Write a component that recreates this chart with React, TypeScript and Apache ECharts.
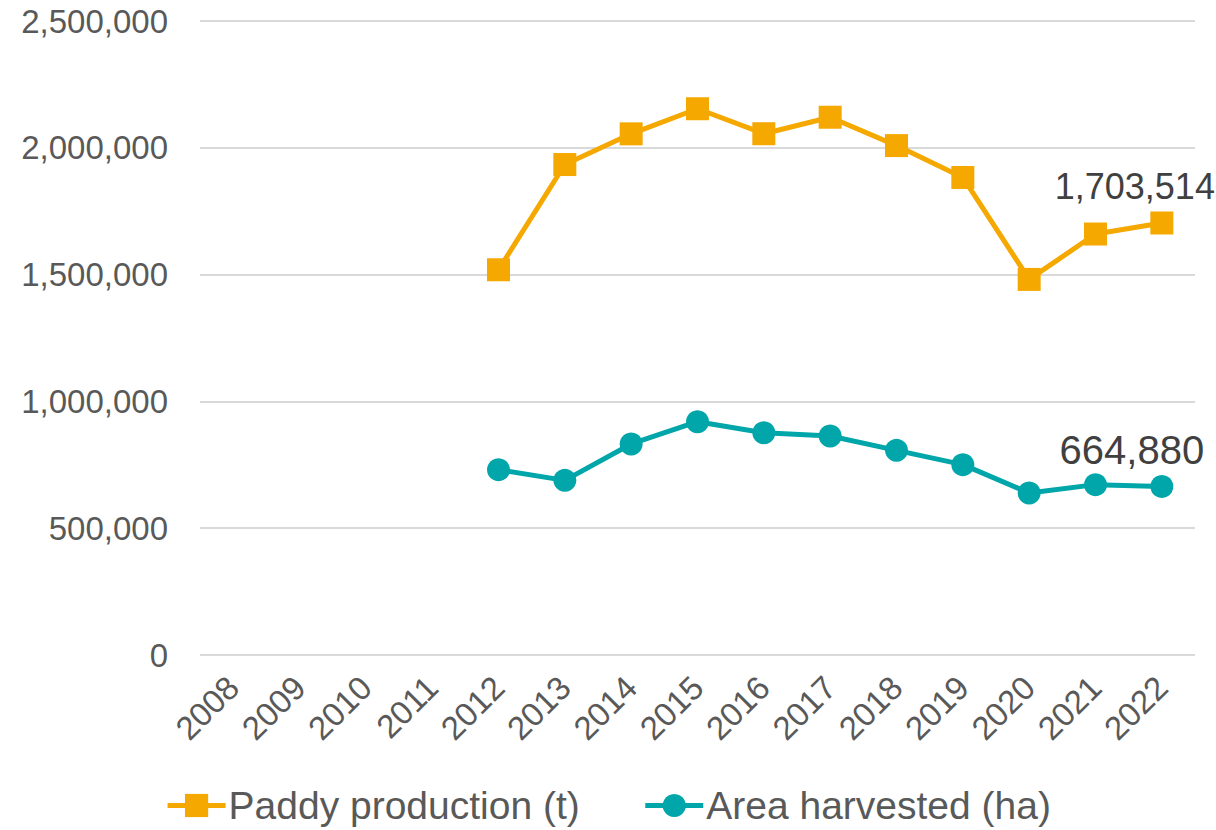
import React, { useEffect, useRef } from "react";
import * as echarts from "echarts";

const years = ["2008","2009","2010","2011","2012","2013","2014","2015","2016","2017","2018","2019","2020","2021","2022"];
const paddyProduction = [null, null, null, null, 1519000, 1934000, 2055000, 2154000, 2055500, 2120500, 2008700, 1883000, 1481000, 1660000, 1703514];
const areaHarvested = [null, null, null, null, 730900, 688700, 832100, 920000, 876700, 863700, 807000, 750600, 639000, 671800, 664880];
const yTicks = [0, 500000, 1000000, 1500000, 2000000, 2500000];

const ORANGE = "#F5A800";
const TEAL = "#00A6A9";
const FONT = "'Liberation Sans', Arial, Helvetica, sans-serif";

const fmt = (v: number) => v.toLocaleString("en-US");

export default function App() {
  const ref = useRef<HTMLDivElement>(null);
  useEffect(() => {
    document.body.style.margin = "0";
    const chart = echarts.init(ref.current!, null, { renderer: "svg" });
    const lastIdx = years.length - 1;
    chart.setOption({
      animation: false,
      textStyle: { fontFamily: FONT },
      grid: { left: 200, right: 21, top: 21, bottom: 175, containLabel: false },
      legend: {
        bottom: 0,
        left: "center",
        itemWidth: 58,
        itemHeight: 29,
        itemGap: 63,
        lineStyle: { width: 5 },
        textStyle: { fontSize: 39, color: "#595959", fontFamily: FONT, padding: [0, 0, 0, -2] },
        data: ["Paddy production (t)", "Area harvested (ha)"],
      },
      xAxis: {
        type: "category",
        data: years,
        boundaryGap: true,
        axisLine: { show: false },
        axisTick: { show: false },
        axisLabel: { rotate: 45, fontSize: 33, color: "#595959", margin: 27, interval: 0 },
      },
      yAxis: {
        type: "value",
        min: yTicks[0],
        max: yTicks[yTicks.length - 1],
        interval: yTicks[1] - yTicks[0],
        axisLine: { show: false },
        axisTick: { show: false },
        splitLine: { lineStyle: { color: "#D9D9D9", width: 2 } },
        axisLabel: { fontSize: 33, color: "#595959", margin: 32, formatter: (v: number) => fmt(v) },
      },
      series: [
        {
          name: "Paddy production (t)",
          type: "line",
          data: paddyProduction.map((v, i) =>
            i === lastIdx
              ? {
                  value: v,
                  label: {
                    show: true,
                    position: "top",
                    distance: 5,
                    offset: [-27, -2],
                    fontSize: 36,
                    color: "#404040",
                    formatter: (p: any) => fmt(p.value),
                  },
                }
              : v
          ),
          symbol: "rect",
          symbolSize: 23,
          lineStyle: { color: ORANGE, width: 5 },
          itemStyle: { color: ORANGE },
          connectNulls: false,
        },
        {
          name: "Area harvested (ha)",
          type: "line",
          data: areaHarvested.map((v, i) =>
            i === lastIdx
              ? {
                  value: v,
                  label: {
                    show: true,
                    position: "top",
                    distance: 5,
                    offset: [-30, 0],
                    fontSize: 40,
                    color: "#404040",
                    formatter: (p: any) => fmt(p.value),
                  },
                }
              : v
          ),
          symbol: "circle",
          symbolSize: 23,
          lineStyle: { color: TEAL, width: 5 },
          itemStyle: { color: TEAL },
          connectNulls: false,
        },
      ],
    });
    return () => chart.dispose();
  }, []);
  return <div ref={ref} style={{ width: 1216, height: 830 }} />;
}
